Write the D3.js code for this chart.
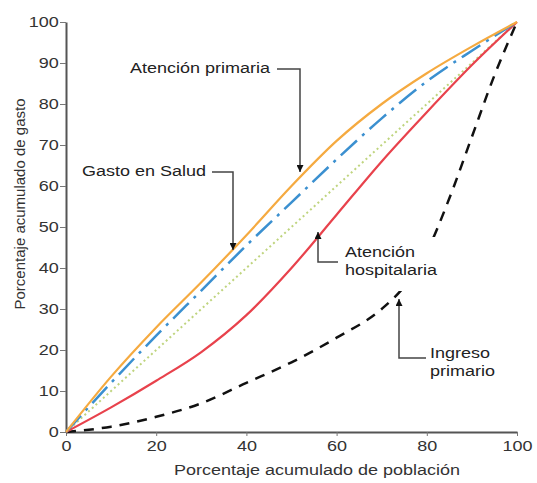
<!DOCTYPE html>
<html><head><meta charset="utf-8">
<script src="https://cdn.jsdelivr.net/npm/d3@7"></script>
<style>
body{margin:0;background:#fff;}
svg{display:block;font-family:"Liberation Sans",Arial,Helvetica,sans-serif;}
</style></head><body>
<svg id="c" width="537" height="483"></svg>
<script>
const xVals = [0,10,20,30,40,50,60,70,80,90,100];
const primaria = [0,13.5,25.5,36.5,48,60,71,80,87.5,94,100];
const salud = [0,12,23.5,34.5,45.5,56,66.5,76.5,85.5,93,100];
const equidad = [0,10,20,30,40,50,60,70,80,90,100];
const hospitalaria = [0,6,12.5,19.5,28.5,40,53,66,78,89.5,100];
const ingresoX = [0,10,20,30,40,50,60,70,75,80,85,90,95,100];
const ingreso = [0,1.3,3.7,7,12,17,23,30,35.5,44,57,72,87,100];
const ticks = [0,20,40,60,80,100];
const yTicks = [0,10,20,30,40,50,60,70,80,90,100];

const SX = 1.2; // horizontal stretch of the text in the reference
const svg = d3.select("#c");
const x = d3.scaleLinear().domain([0,100]).range([66,517]);
const y = d3.scaleLinear().domain([0,100]).range([432,22]);

const defs = svg.append("defs");
defs.append("marker").attr("id","ah").attr("viewBox","0 0 10 10")
  .attr("refX",10).attr("refY",5).attr("markerWidth",7).attr("markerHeight",7)
  .attr("markerUnits","userSpaceOnUse").attr("orient","auto")
  .append("path").attr("d","M0,0L10,5L0,10Z").attr("fill","#111");

// axes
const ax = svg.append("g").attr("transform","translate(0,432)")
  .call(d3.axisBottom(x).tickValues(ticks).tickSize(4).tickSizeOuter(0).tickPadding(4));
const ay = svg.append("g").attr("transform","translate(66,0)")
  .call(d3.axisLeft(y).tickValues(yTicks).tickSize(6).tickSizeOuter(0).tickPadding(1));
[ax,ay].forEach(g=>{
  g.select(".domain").attr("stroke","#555").attr("stroke-width",2);
  g.selectAll(".tick line").attr("stroke","#777");
  g.selectAll(".tick text").attr("fill","#333").style("font-size","15px");
});
ax.selectAll(".tick text").attr("transform",`scale(${SX},1)`);
ay.selectAll(".tick text").attr("transform",`scale(${SX},1)`).attr("x",-6);

function line(xs, ys){
  return d3.line().x((d,i)=>x(xs[i])).y(d=>y(d)).curve(d3.curveMonotoneX)(ys);
}
const g = svg.append("g");
g.append("path").attr("d",line(xVals,equidad)).attr("fill","none")
  .attr("stroke","#bfd47e").attr("stroke-width",2).attr("stroke-dasharray","2,3");
g.append("path").attr("d",line(ingresoX,ingreso)).attr("fill","none")
  .attr("stroke","#111").attr("stroke-width",2.5).attr("stroke-dasharray","10,8");
g.append("path").attr("d",line(xVals,hospitalaria)).attr("fill","none")
  .attr("stroke","#e8424c").attr("stroke-width",2.2);
g.append("path").attr("d",line(xVals,salud)).attr("fill","none")
  .attr("stroke","#3b90d0").attr("stroke-width",2.5).attr("stroke-dasharray","22,7,3,7");
g.append("path").attr("d",line(xVals,primaria)).attr("fill","none")
  .attr("stroke","#f5aa40").attr("stroke-width",2.2);

// annotations
svg.append("rect").attr("x",342).attr("y",237).attr("width",104).attr("height",54).attr("fill","#fff");
const ann = svg.append("g").attr("fill","#222").style("font-size","15px");
function label(px, py, lines){
  const t = ann.append("text").attr("transform",`translate(${px},${py}) scale(${SX},1)`);
  lines.forEach((s,i)=>t.append("tspan").attr("x",0).attr("dy",i?18:0).text(s));
}
function leader(pts){
  svg.append("path").attr("d",d3.line()(pts)).attr("fill","none")
    .attr("stroke","#444").attr("stroke-width",1.5).attr("marker-end","url(#ah)");
}
label(130,73,["Atención primaria"]);
leader([[277,69],[300,69],[300,172]]);
label(82,176,["Gasto en Salud"]);
leader([[212,172],[233,172],[233,250]]);
label(345,257,["Atención","hospitalaria"]);
leader([[338,262],[318,262],[318,232]]);
label(430,358,["Ingreso","primario"]);
leader([[426,358],[399,358],[399,299]]);

// axis titles
svg.append("text").attr("transform",`translate(317,475) scale(${SX},1)`).attr("text-anchor","middle")
  .attr("fill","#333").style("font-size","15px").text("Porcentaje acumulado de población");
svg.append("text").attr("transform","translate(25,204) rotate(-90)").attr("text-anchor","middle")
  .attr("fill","#333").style("font-size","15px").text("Porcentaje acumulado de gasto");
</script>
</body></html>
